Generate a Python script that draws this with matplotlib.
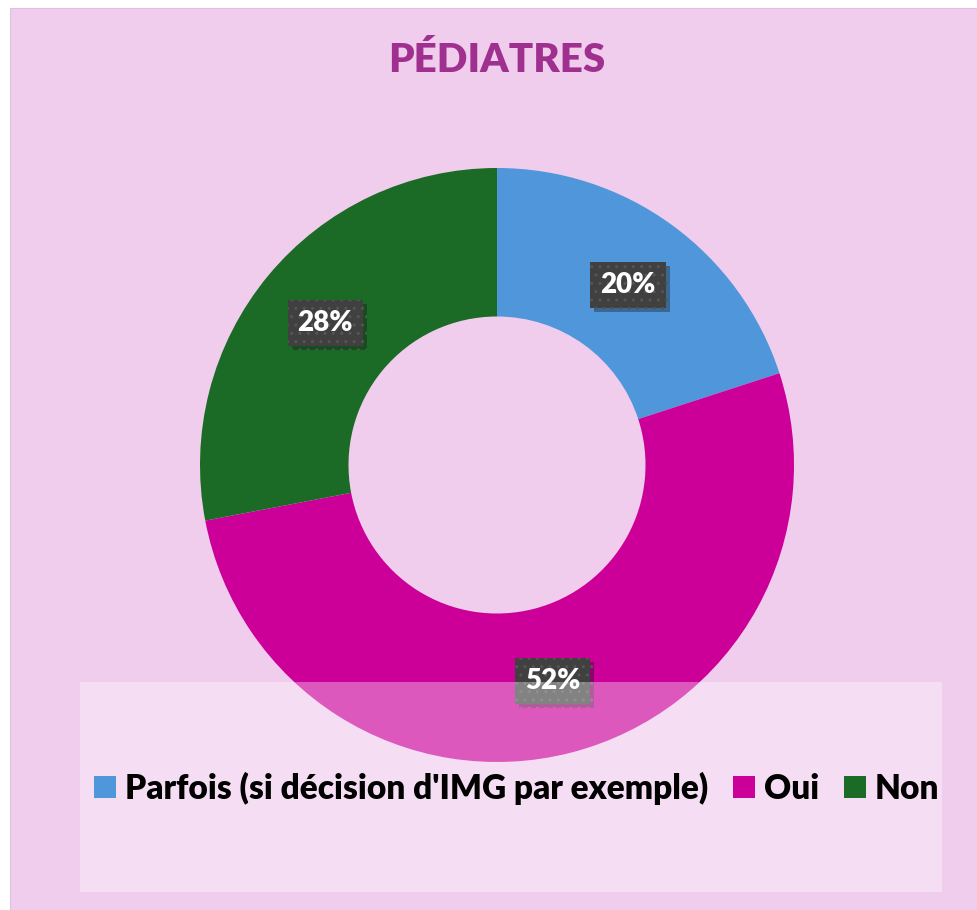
import matplotlib
matplotlib.use("Agg")
import matplotlib.pyplot as plt
from matplotlib.patches import Rectangle, Patch
import matplotlib.patheffects as pe
import numpy as np

categories = ["Parfois (si décision d'IMG par exemple)", "Oui", "Non"]
values = [20, 52, 28]
colors = ["#4F96DA", "#CC0099", "#1B6B27"]
title = "PÉDIATRES"

W, H = 977, 910
fig = plt.figure(figsize=(W / 100, H / 100), dpi=100)
fig.patch.set_facecolor("white")
plt.rcParams['font.family'] = ['Lato', 'DejaVu Sans']

# pink panel
fig.add_artist(Rectangle((10 / W, 0), 1 - 10 / W, 1 - 8 / H, transform=fig.transFigure,
                         facecolor="#F0CDED", edgecolor="#E0C0E0", lw=0.8, zorder=0))

cx, cy, r = 497, 465, 297
ax = fig.add_axes([(cx - r) / W, (H - cy - r) / H, 2 * r / W, 2 * r / H])
ax.patch.set_alpha(0)

wedges, _ = ax.pie(values, colors=colors, startangle=90, counterclock=False, radius=1,
                   wedgeprops=dict(width=0.5, edgecolor="none"))
ax.set_xlim(-1, 1)
ax.set_ylim(-1, 1)
ax.axis("off")

for w, v in zip(wedges, values):
    ang = np.deg2rad((w.theta1 + w.theta2) / 2)
    rr = 0.75
    t = ax.text(rr * np.cos(ang), rr * np.sin(ang), f"{v}%", ha="center", va="center",
                color="white", fontsize=20, fontweight="heavy", zorder=5,
                bbox=dict(boxstyle="square,pad=0.36", facecolor="#404040",
                          edgecolor="#555555", hatch="..", lw=0))
    t.get_bbox_patch().set_path_effects([pe.SimplePatchShadow(offset=(3, -3), alpha=0.35), pe.Normal()])

fig.text(497 / W, 1 - 60 / H, title, ha="center", va="center", color="#A0308F",
         fontsize=29, fontweight="heavy")

# legend box (semi-transparent)
fig.add_artist(Rectangle((80 / W, 1 - 892 / H), 862 / W, 210 / H, transform=fig.transFigure,
                         facecolor="white", alpha=0.35, edgecolor="none", zorder=10))

handles = [Patch(facecolor=c, edgecolor="none") for c in colors]
leg = fig.legend(handles, categories, loc="center", bbox_to_anchor=(517 / W, 1 - 788 / H),
                 ncol=3, frameon=False, handlelength=0.65, handleheight=0.65,
                 handletextpad=0.27, columnspacing=0.75,
                 prop=dict(family=['Lato', 'DejaVu Sans'], weight="heavy", size=24))
leg.set_zorder(11)

fig.savefig("out.png", dpi=100)
